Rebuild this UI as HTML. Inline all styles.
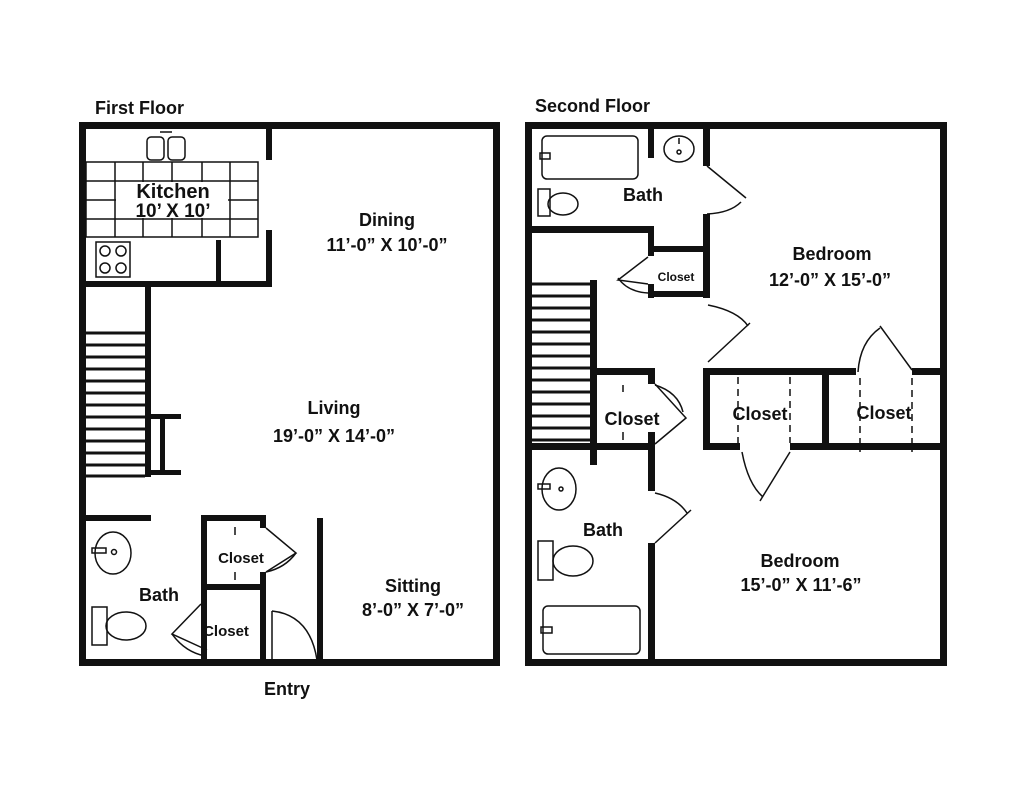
<!DOCTYPE html>
<html><head><meta charset="utf-8"><style>
html,body{margin:0;padding:0;background:#fff;}
svg{display:block}
text{font-family:"Liberation Sans",Arial,sans-serif;font-weight:bold;fill:#111;text-anchor:middle}
</style></head><body>
<svg width="1024" height="791" viewBox="0 0 1024 791" xmlns="http://www.w3.org/2000/svg">
<rect width="1024" height="791" fill="#fff"/>
<text x="95" y="114" font-size="18" style="text-anchor:start">First Floor</text>
<text x="535" y="112" font-size="18" style="text-anchor:start">Second Floor</text>

<!-- ===== FIRST FLOOR ===== -->
<g fill="#111">
<rect x="79" y="122" width="421" height="7"/>
<rect x="79" y="659" width="421" height="7"/>
<rect x="79" y="122" width="7" height="544"/>
<rect x="493" y="122" width="7" height="544"/>
<rect x="266" y="122" width="6" height="38"/>
<rect x="266" y="230" width="6" height="57"/>
<rect x="79" y="281" width="193" height="6"/>
<rect x="216" y="240" width="5" height="41"/>
<rect x="145" y="287" width="6" height="190"/>
<rect x="151" y="414" width="30" height="5"/>
<rect x="151" y="470" width="30" height="5"/>
<rect x="160" y="414" width="5" height="60"/>
<rect x="79" y="515" width="72" height="6"/>
<rect x="201" y="515" width="64" height="6"/>
<rect x="201" y="515" width="6" height="150"/>
<rect x="260" y="515" width="6" height="13"/>
<rect x="260" y="572" width="6" height="93"/>
<rect x="201" y="584" width="64" height="6"/>
<rect x="317" y="518" width="6" height="148"/>
</g>
<g fill="none" stroke="#111" stroke-width="1.5">
<rect x="86" y="162" width="172" height="75"/>
<line x1="86" y1="181" x2="258" y2="181"/><line x1="86" y1="200" x2="258" y2="200"/><line x1="86" y1="219" x2="258" y2="219"/>
<line x1="115" y1="162" x2="115" y2="237"/><line x1="143" y1="162" x2="143" y2="237"/><line x1="172" y1="162" x2="172" y2="237"/><line x1="202" y1="162" x2="202" y2="237"/><line x1="230" y1="162" x2="230" y2="237"/>
<rect x="147" y="137" width="17" height="23" rx="4"/><rect x="168" y="137" width="17" height="23" rx="4"/>
<line x1="160" y1="132" x2="172" y2="132"/>
<rect x="96" y="242" width="34" height="35"/>
<circle cx="105" cy="251" r="5"/><circle cx="121" cy="251" r="5"/><circle cx="105" cy="268" r="5"/><circle cx="121" cy="268" r="5"/>
<g stroke-width="3">
<line x1="86" y1="333" x2="145" y2="333"/><line x1="86" y1="345" x2="145" y2="345"/><line x1="86" y1="357" x2="145" y2="357"/><line x1="86" y1="369" x2="145" y2="369"/><line x1="86" y1="381" x2="145" y2="381"/><line x1="86" y1="393" x2="145" y2="393"/><line x1="86" y1="405" x2="145" y2="405"/><line x1="86" y1="417" x2="145" y2="417"/><line x1="86" y1="429" x2="145" y2="429"/><line x1="86" y1="441" x2="145" y2="441"/><line x1="86" y1="453" x2="145" y2="453"/><line x1="86" y1="465" x2="145" y2="465"/><line x1="86" y1="476" x2="145" y2="476"/>
</g>
<ellipse cx="113" cy="553" rx="18" ry="21"/><circle cx="114" cy="552" r="2.5"/>
<rect x="92" y="548" width="14" height="5"/>
<rect x="92" y="607" width="15" height="38"/>
<ellipse cx="126" cy="626" rx="20" ry="14"/>
<polyline points="266,528 296,553 266,572"/>
<path d="M296,553 Q285,568 266,572"/>
<line x1="235" y1="527" x2="235" y2="535"/><line x1="235" y1="572" x2="235" y2="580"/>
<polyline points="201,604 172,634 207,650"/>
<path d="M172,634 Q185,652 205,656"/>
<line x1="272" y1="611" x2="272" y2="660"/>
<path d="M272,611 Q310,615 317,660"/>
</g>
<rect x="116" y="182" width="112" height="36" fill="#fff"/>
<text x="173" y="198" font-size="20">Kitchen</text>
<text x="173" y="217" font-size="19">10’ X 10’</text>
<text x="387" y="226" font-size="18">Dining</text>
<text x="387" y="251" font-size="18">11’-0” X 10’-0”</text>
<text x="334" y="414" font-size="18">Living</text>
<text x="334" y="442" font-size="18">19’-0” X 14’-0”</text>
<text x="413" y="592" font-size="18">Sitting</text>
<text x="413" y="616" font-size="18">8’-0” X 7’-0”</text>
<text x="159" y="601" font-size="18">Bath</text>
<text x="241" y="563" font-size="15">Closet</text>
<text x="226" y="636" font-size="15">Closet</text>
<text x="287" y="695" font-size="18">Entry</text>

<!-- ===== SECOND FLOOR ===== -->
<g fill="#111">
<rect x="525" y="122" width="422" height="7"/>
<rect x="525" y="659" width="422" height="7"/>
<rect x="525" y="122" width="7" height="544"/>
<rect x="940" y="122" width="7" height="544"/>
<rect x="648" y="122" width="6" height="36"/>
<rect x="703" y="122" width="7" height="44"/>
<rect x="703" y="214" width="7" height="84"/>
<rect x="525" y="226" width="129" height="7"/>
<rect x="648" y="226" width="6" height="30"/>
<rect x="648" y="284" width="6" height="14"/>
<rect x="648" y="246" width="62" height="6"/>
<rect x="648" y="291" width="62" height="6"/>
<rect x="590" y="280" width="7" height="185"/>
<rect x="525" y="443" width="72" height="7"/>
<rect x="597" y="368" width="58" height="7"/>
<rect x="597" y="443" width="58" height="7"/>
<rect x="648" y="368" width="7" height="16"/>
<rect x="648" y="432" width="7" height="59"/>
<rect x="648" y="543" width="7" height="123"/>
<rect x="703" y="368" width="153" height="7"/>
<rect x="912" y="368" width="35" height="7"/>
<rect x="703" y="443" width="37" height="7"/>
<rect x="790" y="443" width="157" height="7"/>
<rect x="703" y="368" width="7" height="82"/>
<rect x="822" y="368" width="7" height="82"/>
</g>
<g fill="none" stroke="#111" stroke-width="1.5">
<rect x="542" y="136" width="96" height="43" rx="5"/>
<rect x="540" y="153" width="10" height="6"/>
<ellipse cx="679" cy="149" rx="15" ry="13"/><circle cx="679" cy="152" r="2"/><line x1="679" y1="138" x2="679" y2="144"/>
<rect x="538" y="189" width="12" height="27"/>
<ellipse cx="563" cy="204" rx="15" ry="11"/>
<line x1="707" y1="166" x2="746" y2="198"/>
<path d="M741,202 Q730,213 707,214"/>
<polyline points="648,257 618,280 648,284"/>
<path d="M618,278 Q628,292 648,293"/>
<path d="M708,305 Q738,311 748,326"/>
<line x1="750" y1="323" x2="708" y2="362"/>
<g stroke-width="3">
<line x1="532" y1="284" x2="590" y2="284"/><line x1="532" y1="296" x2="590" y2="296"/><line x1="532" y1="308" x2="590" y2="308"/><line x1="532" y1="320" x2="590" y2="320"/><line x1="532" y1="332" x2="590" y2="332"/><line x1="532" y1="344" x2="590" y2="344"/><line x1="532" y1="356" x2="590" y2="356"/><line x1="532" y1="368" x2="590" y2="368"/><line x1="532" y1="380" x2="590" y2="380"/><line x1="532" y1="392" x2="590" y2="392"/><line x1="532" y1="404" x2="590" y2="404"/><line x1="532" y1="416" x2="590" y2="416"/><line x1="532" y1="428" x2="590" y2="428"/><line x1="532" y1="440" x2="590" y2="440"/>
</g>
<polyline points="655,384 686,418 655,444"/>
<path d="M655,385 Q678,392 683,412"/>
<line x1="623" y1="385" x2="623" y2="392" /><line x1="623" y1="432" x2="623" y2="440"/>
<ellipse cx="559" cy="489" rx="17" ry="21"/><circle cx="561" cy="489" r="2"/>
<rect x="538" y="484" width="12" height="5"/>
<rect x="538" y="541" width="15" height="39"/>
<ellipse cx="573" cy="561" rx="20" ry="15"/>
<rect x="543" y="606" width="97" height="48" rx="5"/>
<rect x="541" y="627" width="11" height="6"/>
<line x1="655" y1="543" x2="691" y2="510"/>
<path d="M655,493 Q677,498 687,513"/>
<path d="M742,452 Q748,484 763,497"/>
<line x1="790" y1="452" x2="760" y2="501"/>
<path d="M858,372 Q860,342 880,328"/>
<line x1="912" y1="370" x2="880" y2="326"/>
<g stroke-dasharray="7,5">
<line x1="738" y1="377" x2="738" y2="443"/><line x1="790" y1="377" x2="790" y2="443"/>
<line x1="860" y1="378" x2="860" y2="452"/><line x1="912" y1="378" x2="912" y2="452"/>
</g>
</g>
<text x="643" y="201" font-size="18">Bath</text>
<text x="832" y="260" font-size="18">Bedroom</text>
<text x="830" y="286" font-size="18">12’-0” X 15’-0”</text>
<text x="676" y="281" font-size="12">Closet</text>
<text x="632" y="425" font-size="18">Closet</text>
<text x="760" y="420" font-size="18">Closet</text>
<text x="884" y="419" font-size="18">Closet</text>
<text x="603" y="536" font-size="18">Bath</text>
<text x="800" y="567" font-size="18">Bedroom</text>
<text x="801" y="591" font-size="18">15’-0” X 11’-6”</text>
</svg>
</body></html>
